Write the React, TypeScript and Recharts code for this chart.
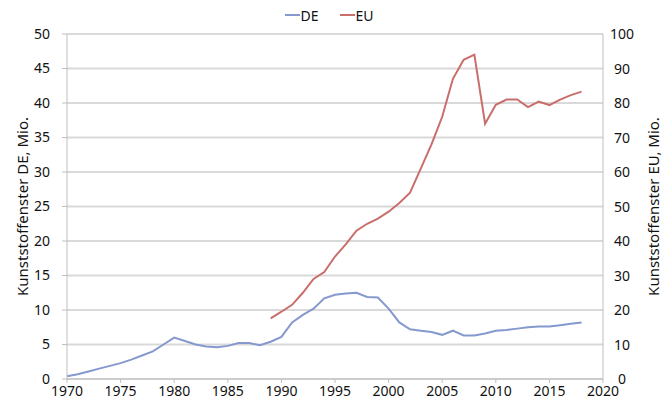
// App.tsx — Kunststoffenster DE / EU, two y axes
import {
  LineChart, Line, XAxis, YAxis, CartesianGrid, Legend,
} from "recharts";

const years = [
  1970, 1971, 1972, 1973, 1974, 1975, 1976, 1977, 1978, 1979,
  1980, 1981, 1982, 1983, 1984, 1985, 1986, 1987, 1988, 1989,
  1990, 1991, 1992, 1993, 1994, 1995, 1996, 1997, 1998, 1999,
  2000, 2001, 2002, 2003, 2004, 2005, 2006, 2007, 2008, 2009,
  2010, 2011, 2012, 2013, 2014, 2015, 2016, 2017, 2018,
];

// Mio. Fenster, Deutschland (linke Achse)
const deValues = [
  0.4, 0.7, 1.1, 1.5, 1.9, 2.3, 2.8, 3.4, 4.0, 5.0,
  6.0, 5.5, 5.0, 4.7, 4.6, 4.8, 5.2, 5.2, 4.9, 5.4,
  6.1, 8.2, 9.3, 10.2, 11.7, 12.2, 12.4, 12.5, 11.9, 11.8,
  10.2, 8.2, 7.2, 7.0, 6.8, 6.4, 7.0, 6.3, 6.3, 6.6,
  7.0, 7.1, 7.3, 7.5, 7.6, 7.6, 7.8, 8.0, 8.2,
];

// Mio. Fenster, EU (rechte Achse)
const euYears = [
  1989, 1990, 1991, 1992, 1993, 1994, 1995, 1996, 1997, 1998,
  1999, 2000, 2001, 2002, 2003, 2004, 2005, 2006, 2007, 2008,
  2009, 2010, 2011, 2012, 2013, 2014, 2015, 2016, 2017, 2018,
];
const euValues = [
  17.6, 19.5, 21.5, 25, 29, 31, 35.5, 39, 43, 45,
  46.5, 48.5, 51, 54, 61, 68, 76, 87, 92.5, 94,
  74, 79.5, 81, 81, 78.8, 80.4, 79.4, 81, 82.3, 83.3,
];

const xTicks = [1970, 1975, 1980, 1985, 1990, 1995, 2000, 2005, 2010, 2015, 2020];
const deTicks = [0, 5, 10, 15, 20, 25, 30, 35, 40, 45, 50];
const euTicks = [0, 10, 20, 30, 40, 50, 60, 70, 80, 90, 100];

const DE_COLOR = "#8599cf";
const EU_COLOR = "#c96e6b";
const AXIS = "#bfbfbf";
const FONT = "'Noto Sans', sans-serif";

const rows = years.map((year, i) => {
  const k = euYears.indexOf(year);
  return { year, de: deValues[i], eu: k >= 0 ? euValues[k] : null };
});

function LegendBox() {
  const item = (label: string, color: string) => (
    <div style={{ display: "flex", alignItems: "center", margin: "0 11px" }}>
      <span style={{ display: "inline-block", width: 15, height: 2, background: color }} />
      <span style={{ fontSize: 14, color: "#111" }}>{label}</span>
    </div>
  );
  return (
    <div style={{ display: "flex", justifyContent: "center", height: 20, alignItems: "center", fontFamily: FONT, paddingRight: 6 }}>
      {item("DE", DE_COLOR)}
      {item("EU", EU_COLOR)}
    </div>
  );
}

function SideLabel({ viewBox, text, x }: any) {
  const cy = viewBox.y + viewBox.height / 2;
  return (
    <text x={x} y={cy} transform={`rotate(-90, ${x}, ${cy})`} textAnchor="middle"
      dominantBaseline="central" fontSize={15} fill="#111" fontFamily={FONT}>
      {text}
    </text>
  );
}

function RightTick({ x, y, payload }: any) {
  return (
    <text x={x + 17} y={y} dy={5} textAnchor="middle" fontSize={14} fill="#111" fontFamily={FONT}>
      {payload.value}
    </text>
  );
}

export default function App() {
  return (
    <div style={{ width: 665, height: 402 }}>
      <style>{"body{margin:0}"}</style>
      <LineChart width={665} height={402} data={rows} margin={{ top: 14, right: 0, bottom: 0, left: 0 }}>
        <CartesianGrid yAxisId="de" vertical={false} stroke="#d9d9d9" strokeWidth={2} />
        <Legend verticalAlign="top" align="center" content={<LegendBox />}
          wrapperStyle={{ top: 5, left: 0, width: 665 }} />
        <XAxis dataKey="year" type="number" domain={[1970, 2020]} ticks={xTicks}
          height={23} interval={0} stroke={AXIS} tickSize={4} tickMargin={3}
          tick={{ fontSize: 14, fill: "#111", fontFamily: FONT }} />
        <YAxis yAxisId="de" orientation="left" domain={[0, 50]} ticks={deTicks} width={67}
          stroke={AXIS} tickSize={5} tickMargin={12} interval={0}
          tick={{ fontSize: 14, fill: "#111", fontFamily: FONT }}
          label={{ content: (p: any) => <SideLabel {...p} x={22} text="Kunststoffenster DE, Mio." /> }} />
        <YAxis yAxisId="eu" orientation="right" domain={[0, 100]} ticks={euTicks} width={62}
          stroke={AXIS} tickSize={0} interval={0} tick={<RightTick />}
          label={{ content: (p: any) => <SideLabel {...p} x={653} text="Kunststoffenster EU, Mio." /> }} />
        <Line yAxisId="de" dataKey="de" name="DE" type="linear" stroke={DE_COLOR}
          strokeWidth={2} dot={false} isAnimationActive={false} />
        <Line yAxisId="eu" dataKey="eu" name="EU" type="linear" stroke={EU_COLOR}
          strokeWidth={2} dot={false} isAnimationActive={false} />
      </LineChart>
    </div>
  );
}
